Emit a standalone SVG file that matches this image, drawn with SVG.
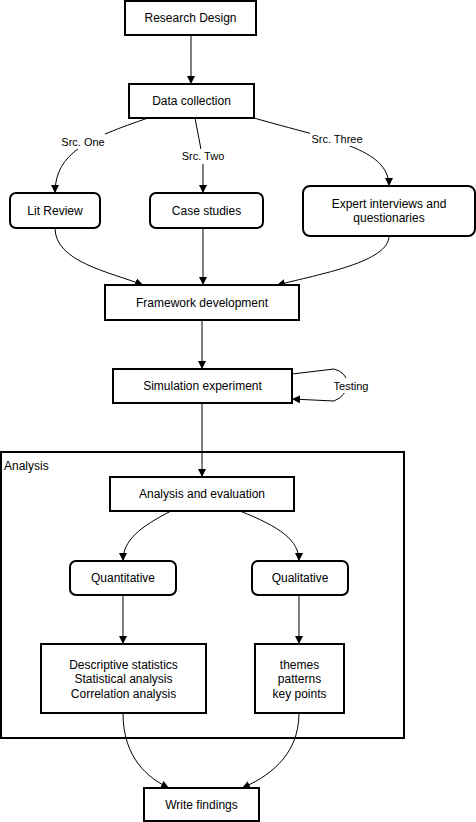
<svg xmlns="http://www.w3.org/2000/svg" width="476" height="822" viewBox="0 0 476 822">
<style>
.box{fill:#fff;stroke:#000;stroke-width:2}
.cont{fill:none;stroke:#000;stroke-width:2}
.t{font-family:"Liberation Sans",Arial,sans-serif;font-size:12px;fill:#000;text-anchor:middle}
.lbl{font-family:"Liberation Sans",Arial,sans-serif;font-size:11px;fill:#000;text-anchor:middle}
.e{fill:none;stroke:#000;stroke-width:1;marker-end:url(#arr)}
.bg{fill:#fff}
</style>
<defs>
<marker id="arr" viewBox="0 0 10 10" refX="10" refY="5" markerWidth="8" markerHeight="8" markerUnits="userSpaceOnUse" orient="auto">
<path d="M0,0 L10,5 L0,10 Z" fill="#000"/>
</marker>
</defs>
<g id="analysis-container">
<rect class="cont" x="1" y="452" width="403" height="286"/>
<text x="4" y="470" style="font-family:'Liberation Sans',Arial,sans-serif;font-size:12px">Analysis</text>
</g>
<g id="connectors">
<path class="e" d="M191,35 L191,84"/>
<path class="e" d="M148,118 C90,138 55,152 55,193"/>
<path class="e" d="M195,118 L203,160 L203,193"/>
<path class="e" d="M254,118 C330,140 389,148 389,186"/>
<path class="e" d="M55,228 C55,262 110,272 143,285"/>
<path class="e" d="M203,228 L203,285"/>
<path class="e" d="M389,236 C389,262 320,274 277,285"/>
<path class="e" d="M202,320 L202,369"/>
<path class="e" d="M292,374 L334,369 Q346,372 348,384 Q346,396 334,401 L292,399"/>
<path class="e" d="M202,403 L202,477"/>
<path class="e" d="M171,511 C140,527 123,540 123,561"/>
<path class="e" d="M240,511 C280,527 299,540 299,561"/>
<path class="e" d="M123,595 L123,644"/>
<path class="e" d="M299,595 L299,644"/>
<path class="e" d="M123,713 C123,758 148,778 169,788"/>
<path class="e" d="M299,713 C299,758 265,778 242,788"/>
<rect class="bg" x="59" y="134" width="46" height="15"/>
<text class="lbl" x="83" y="146">Src. One</text>
<rect class="bg" x="180" y="149" width="46" height="15"/>
<text class="lbl" x="203" y="160">Src. Two</text>
<rect class="bg" x="310" y="131" width="54" height="15"/>
<text class="lbl" x="337" y="143">Src. Three</text>
<rect class="bg" x="332" y="378" width="38" height="15"/>
<text class="lbl" x="351" y="390">Testing</text>
</g>
<g id="research-design"><rect class="box" x="125" y="1" width="131" height="34"/><text class="t" x="190.5" y="22">Research Design</text></g>
<g id="data-collection"><rect class="box" x="129" y="84" width="125" height="34"/><text class="t" x="191.5" y="105">Data collection</text></g>
<g id="lit-review"><rect class="box" x="10" y="193" width="90" height="35" rx="6"/><text class="t" x="55" y="215">Lit Review</text></g>
<g id="case-studies"><rect class="box" x="150" y="193" width="113" height="35" rx="6"/><text class="t" x="206.5" y="215">Case studies</text></g>
<g id="expert"><rect class="box" x="303" y="186" width="172" height="50" rx="7"/><text class="t" x="389" y="208">Expert interviews and</text><text class="t" x="389" y="222">questionaries</text></g>
<g id="framework"><rect class="box" x="105" y="285" width="194" height="35"/><text class="t" x="202" y="307">Framework development</text></g>
<g id="simulation"><rect class="box" x="113" y="369" width="179" height="34"/><text class="t" x="202.5" y="390">Simulation experiment</text></g>
<g id="analysis-eval"><rect class="box" x="110" y="477" width="184" height="34"/><text class="t" x="202" y="498">Analysis and evaluation</text></g>
<g id="quantitative"><rect class="box" x="70" y="561" width="106" height="34" rx="6"/><text class="t" x="123" y="582">Quantitative</text></g>
<g id="qualitative"><rect class="box" x="252" y="561" width="96" height="34" rx="6"/><text class="t" x="300" y="582">Qualitative</text></g>
<g id="descriptive"><rect class="box" x="41" y="644" width="165" height="69"/><text class="t" x="123.5" y="669">Descriptive statistics</text><text class="t" x="123.5" y="683">Statistical analysis</text><text class="t" x="123.5" y="698">Correlation analysis</text></g>
<g id="themes"><rect class="box" x="255" y="644" width="89" height="69"/><text class="t" x="299.5" y="669">themes</text><text class="t" x="299.5" y="683">patterns</text><text class="t" x="299.5" y="698">key points</text></g>
<g id="write-findings"><rect class="box" x="144" y="788" width="115" height="33"/><text class="t" x="201.5" y="809">Write findings</text></g>
</svg>
